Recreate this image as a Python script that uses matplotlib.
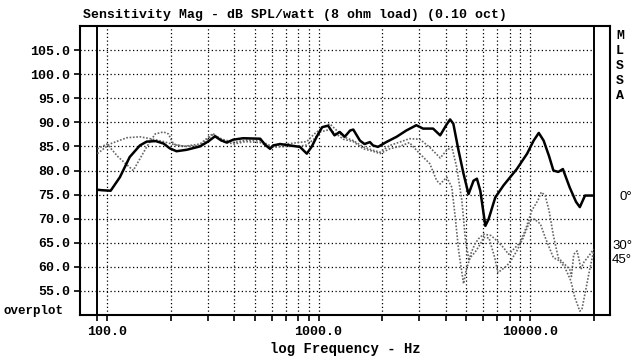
import matplotlib.pyplot as plt
import numpy as np

# 0 deg (solid)
f0 = [90, 95, 104, 115, 128, 143, 154, 170, 185, 198, 213, 238, 275, 300, 324, 345,
      368, 395, 440, 530, 560, 590, 610, 657, 734, 817, 880, 930, 980, 1040, 1110,
      1190, 1260, 1330, 1410, 1460, 1570, 1650, 1750, 1810, 1910, 2090, 2340, 2600,
      2900, 3120, 3480, 3760, 4040, 4190, 4340, 4590, 4850, 5120, 5410, 5610, 5820,
      6150, 6370, 6850, 7490, 8660, 9690, 10400, 11000, 11600, 12300, 12900, 13600,
      14300, 15400, 16500, 17200, 18200, 20000]
db0 = [76.0, 75.9, 75.8, 78.6, 82.8, 85.2, 86.0, 86.1, 85.6, 84.6, 84.0, 84.3, 85.0,
       86.0, 87.1, 86.3, 85.8, 86.4, 86.7, 86.6, 85.3, 84.5, 85.2, 85.5, 85.2, 84.9,
       83.5, 85.0, 87.0, 89.0, 89.3, 87.3, 88.0, 87.0, 88.3, 88.5, 86.2, 85.5, 85.9,
       85.2, 84.9, 85.9, 87.0, 88.3, 89.4, 88.7, 88.7, 87.3, 89.6, 90.6, 89.7, 84.2,
       79.3, 75.1, 77.9, 78.3, 75.8, 68.5, 69.9, 74.4, 76.9, 80.3, 83.5, 86.2, 87.8,
       86.2, 83.0, 80.0, 79.7, 80.3, 76.5, 73.5, 72.4, 74.8, 74.8]

# 30 deg (dotted)
f30 = [90, 103, 124, 143, 160, 185, 210, 240, 275, 317, 350, 400, 450, 530, 600, 700,
       800, 880, 950, 1050, 1130, 1220, 1310, 1460, 1630, 1810, 1950, 2170, 2420,
       2690, 3010, 3360, 3760, 4040, 4270, 4500, 4760, 4940, 5140, 5280, 5480, 5700,
       6040, 6540, 6980, 7490, 7920, 8300, 9000, 9600, 10200, 10900, 11300, 11800,
       12300, 12900, 13600, 14300, 15400, 15700, 16100, 16700, 17100, 17400, 18000,
       19000, 20000]
db30 = [83.5, 85.5, 86.8, 87.0, 86.6, 86.0, 85.3, 85.0, 85.2, 87.5, 86.5, 85.8, 86.3,
        86.2, 85.0, 85.5, 85.8, 86.0, 87.5, 89.0, 89.7, 88.3, 87.0, 86.2, 84.9, 84.2,
        83.8, 85.2, 85.9, 86.6, 86.5, 84.8, 82.6, 84.2, 84.9, 80.7, 73.8, 66.0, 61.3,
        63.0, 64.7, 65.8, 66.8, 66.5, 65.4, 64.0, 62.6, 63.5, 65.1, 68.2, 71.7, 73.8,
        75.5, 74.8, 71.7, 66.5, 61.9, 60.9, 59.5, 58.0, 62.6, 63.3, 61.3, 59.5, 61.0,
        62.3, 63.7]

# 45 deg (dotted)
f45 = [90, 100, 113, 133, 154, 169, 185, 195, 206, 230, 275, 317, 350, 400, 450, 530,
       600, 700, 800, 880, 950, 1016, 1130, 1220, 1310, 1460, 1630, 1810, 1950, 2170,
       2420, 2690, 3010, 3360, 3620, 3760, 4040, 4270, 4430, 4600, 4850, 5000, 5210,
       5490, 5820, 6040, 6400, 6800, 7050, 7770, 8200, 8660, 9300, 10000, 10500,
       11200, 11800, 12900, 13800, 14600, 15100, 15600, 16300, 17200, 17600, 18300,
       19100, 20000]
db45 = [84.5, 85.5, 82.8, 80.0, 84.9, 87.6, 88.0, 87.6, 85.5, 85.0, 85.5, 87.7, 86.0,
        85.5, 86.0, 85.8, 84.8, 85.0, 85.0, 85.3, 86.5, 88.0, 88.5, 87.5, 86.5, 86.0,
        84.5, 84.0, 83.5, 84.5, 85.0, 85.8, 83.5, 81.4, 77.9, 77.2, 78.6, 76.5, 70.3,
        63.3, 56.5, 59.5, 61.9, 63.0, 64.7, 66.1, 66.0, 62.0, 58.8, 60.2, 61.6, 63.3,
        66.1, 69.6, 69.9, 68.9, 66.1, 61.9, 61.25, 59.9, 58.5, 57.1, 53.6, 50.8, 51.2,
        55.0, 59.2, 63.3]

yticks = [55, 60, 65, 70, 75, 80, 85, 90, 95, 100, 105]
xmajor = [100, 1000, 10000]
xminor = [90, 200, 300, 400, 500, 600, 700, 800, 900, 2000, 3000, 4000, 5000,
          6000, 7000, 8000, 9000, 20000]

mono = 'Liberation Mono'
sans = 'Liberation Sans'

fig = plt.figure(figsize=(6.37, 3.63), dpi=100)
ax = fig.add_axes([80/637, 48/363, 530/637, 289/363])

ax.set_xscale('log')
ax.set_xlim(74.5, 23890)
ax.set_ylim(50, 110)

# grid
for x in xmajor + xminor:
    if x in (90, 20000):
        ax.axvline(x, color='black', lw=1.4)
    else:
        ax.axvline(x, color='black', lw=0.9, ls=(0, (1, 2)))
for y in yticks:
    ax.plot([74.5, 20000], [y, y], color='black', lw=0.9, ls=(0, (1, 2)))

ax.plot(f30, db30, color='0.4', lw=1.2, ls=(0, (1, 1)))
ax.plot(f45, db45, color='0.4', lw=1.2, ls=(0, (1, 1)))
ax.plot(f0, db0, color='black', lw=1.8)

ax.set_xticks(xmajor)
ax.set_xticklabels(['100.0', '1000.0', '10000.0'])
ax.set_xticks(xminor, minor=True)
ax.set_xticklabels([], minor=True)
ax.set_yticks(yticks)
ax.set_yticklabels(['%.1f' % v for v in yticks])
ax.tick_params(which='both', direction='out', length=4, width=1.2, color='black')
ax.tick_params(axis='y', pad=3)
ax.tick_params(axis='x', pad=4)
for lab in ax.get_xticklabels() + ax.get_yticklabels():
    lab.set_fontfamily(mono)
    lab.set_fontweight('bold')
    lab.set_fontsize(9.5)

for s in ax.spines.values():
    s.set_linewidth(1.5)

ax.set_xlabel('log Frequency - Hz', fontfamily=mono, fontweight='bold',
              fontsize=10, labelpad=3)

fig.text(83/637, 1 - 15/363, 'Sensitivity Mag - dB SPL/watt (8 ohm load) (0.10 oct)',
         fontfamily=mono, fontweight='bold', fontsize=9.5, ha='left', va='center')
fig.text(4/637, 1 - 311/363, 'overplot', fontfamily=mono, fontweight='bold',
         fontsize=9, ha='left', va='center')

for i, ch in enumerate('MLSSA'):
    fig.text(620/637, 1 - (36 + i*15)/363, ch, fontfamily=mono, fontweight='bold',
             fontsize=9.5, ha='center', va='center')

fig.text(620/637, 1 - 197/363, '0°', fontfamily=sans, fontsize=9.5,
         ha='left', va='center')
fig.text(612/637, 1 - 246/363, '30°', fontfamily=sans, fontsize=9.5,
         ha='left', va='center')
fig.text(612/637, 1 - 260/363, '45°', fontfamily=sans, fontsize=9.5,
         ha='left', va='center')

fig.savefig('out.png', dpi=100)
